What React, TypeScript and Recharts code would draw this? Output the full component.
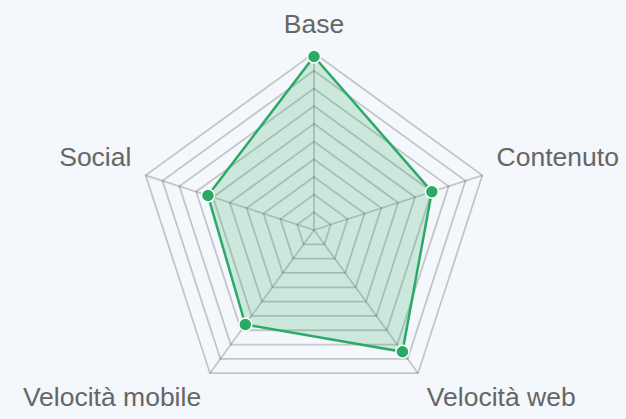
import React from 'react';
import {
  RadarChart,
  Radar,
  PolarGrid,
  PolarAngleAxis,
  PolarRadiusAxis,
} from 'recharts';

const categories = ['Base', 'Contenuto', 'Velocità web', 'Velocità mobile', 'Social'];
const scores = [98, 70, 85, 66, 63];

const GREEN = '#2baa66';
const LABEL_COLOR = '#666666';

const data = categories.map((name, i) => ({ name, score: scores[i] }));

const renderAngleTick = (props: any) => {
  const { x, y, payload } = props;
  const angle = (payload.coordinate * Math.PI) / 180;
  const dx = Math.cos(angle);
  const dy = -Math.sin(angle);
  const px = x + dx * 7;
  const py = y + dy * 7;

  let anchor: 'start' | 'middle' | 'end' = 'middle';
  if (dx > 0.05) anchor = 'start';
  else if (dx < -0.05) anchor = 'end';

  // upper labels sit on the point, lower labels hang below it
  const baseline = dy < 0 ? py - 5 : py + 21;

  return (
    <text
      x={px}
      y={baseline}
      textAnchor={anchor}
      fill={LABEL_COLOR}
      fontSize={26.5}
      fontFamily="'Liberation Sans', Arial, Helvetica, sans-serif"
    >
      {payload.value}
    </text>
  );
};

const renderDot = (props: any) => {
  const { cx, cy, index } = props;
  return (
    <circle
      key={`dot-${index}`}
      cx={cx}
      cy={cy}
      r={6.5}
      fill={GREEN}
      stroke="#ffffff"
      strokeWidth={1.5}
    />
  );
};

const App: React.FC = () => {
  return (
    <div
      style={{
        position: 'absolute',
        left: 0,
        top: 0,
        width: 626,
        height: 419,
        background: '#f4f7fb',
      }}
    >
      <RadarChart
        width={626}
        height={419}
        data={data}
        cx={314}
        cy={230}
        outerRadius={177}
        startAngle={90}
        endAngle={-270}
      >
        <PolarRadiusAxis
          domain={[0, 100]}
          tickCount={11}
          tick={false}
          axisLine={false}
        />
        <PolarAngleAxis dataKey="name" tick={renderAngleTick} tickLine={false} />
        <Radar
          dataKey="score"
          stroke={GREEN}
          strokeWidth={2.5}
          fill={GREEN}
          fillOpacity={0.2}
          dot={false}
          isAnimationActive={false}
        />
        {/* grid drawn over the area so lines look darker inside it */}
        <PolarGrid gridType="polygon" stroke="rgba(0,0,0,0.2)" strokeWidth={1.8} />
        <Radar
          dataKey="score"
          stroke="none"
          fill="none"
          dot={renderDot}
          isAnimationActive={false}
        />
      </RadarChart>
    </div>
  );
};

export default App;
